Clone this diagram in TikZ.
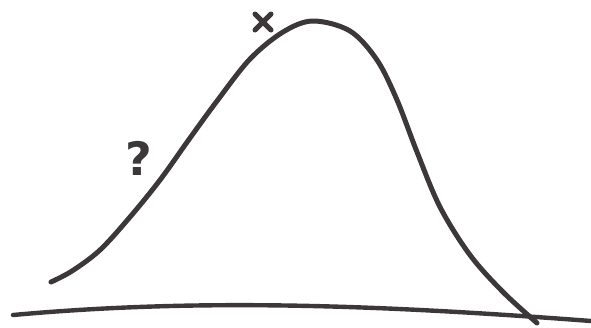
\documentclass[tikz,border=0pt]{standalone}
\usepackage{fontspec}
\newfontfamily\handfont{DejaVu Sans}
\begin{document}
\begin{tikzpicture}[x=1pt,y=-1pt,
  ink/.style={draw=inkcol,line width=5pt,line cap=round,line join=round}]
\definecolor{inkcol}{HTML}{3C383A}
\useasboundingbox (0,0) rectangle (591,327);
% baseline
\coordinate (bl) at (13,315);
\coordinate (br) at (591,321);
\draw[ink,line width=4.4pt] (bl) .. controls (200,298) and (380,305) .. (br);
% bell curve
\draw[ink] plot[smooth,tension=0.55] coordinates {
 (51,282) (72,271) (100,250) (130,217) (160,180) (190,138) (217,101) (250,59)
 (283,32) (313,21) (350,31) (377,60) (397,100) (417,152) (440,207)
 (470,255) (503,292) (537,323)};
% x mark
\coordinate (x1) at (255,14);
\coordinate (x2) at (271,30);
\coordinate (x3) at (255,30);
\coordinate (x4) at (271,14);
\draw[ink,line width=5pt] (x1) -- (x2);
\draw[ink,line width=5pt] (x3) -- (x4);
% question mark
\node[text=inkcol,font=\handfont\bfseries\fontsize{46}{46}\selectfont] (q) at (139,158) {?};
\end{tikzpicture}
\end{document}
